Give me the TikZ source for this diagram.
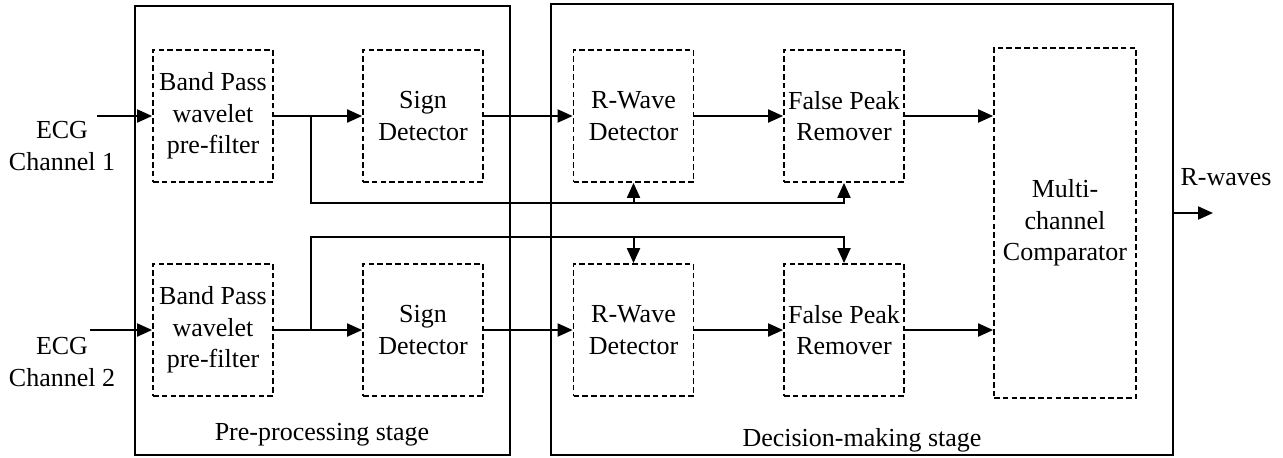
\documentclass[tikz,border=0pt]{standalone}
\usepackage{fontspec}
\setmainfont{Liberation Serif}
\usetikzlibrary{positioning,arrows.meta,calc,fit}

\begin{document}
\begin{tikzpicture}[x=0.5pt,y=-0.5pt,font=\fontsize{13}{15.8}\selectfont,line width=1pt,
		block/.style={rectangle,draw,dash pattern=on 2.8pt off 1.6pt,line width=0.9pt,
			minimum width=60pt,minimum height=66pt,inner sep=1pt,align=center},
		stage/.style={rectangle,draw,inner sep=0pt},
		arr/.style={-{Triangle[length=7.5pt,width=6.5pt]}}]
	\useasboundingbox (0,0) rectangle (1283,457);

	% stages
	\node[stage,fit={(135,6) (510,455)}] (pre) {};
	\node[stage,fit={(551,4) (1173,455)}] (dec) {};
	\node (prelbl) at (322,435) {Pre-processing stage};
	\node (declbl) at (862,440) {Decision-making stage};

	% channel 1
	\node[align=center] (ch1) at (62,146) {ECG\\Channel 1};
	\node[block] (bp1) at (213,116) {Band Pass\\wavelet\\pre-filter};
	\node[block] (sd1) at (423,116) {Sign\\Detector};
	\node[block] (rw1) at (633.5,116) {R-Wave\\Detector};
	\node[block] (fp1) at (844,116) {False Peak\\Remover};

	% channel 2
	\node[align=center] (ch2) at (62,362) {ECG\\Channel 2};
	\node[block] (bp2) at (213,330) {Band Pass\\wavelet\\pre-filter};
	\node[block] (sd2) at (423,330) {Sign\\Detector};
	\node[block] (rw2) at (633.5,330) {R-Wave\\Detector};
	\node[block] (fp2) at (844,330) {False Peak\\Remover};

	\node[block,minimum width=71pt,minimum height=175pt] (cmp) at (1065,223) {Multi-\\channel\\Comparator};
	\node (rwaves) at (1226,177) {R-waves};

	\coordinate (in1) at (97,116);
	\coordinate (in2) at (90,330);
	\coordinate (j1) at (311,116);
	\coordinate (b1) at (311,203);
	\coordinate (j2) at (311,330);
	\coordinate (b2) at (311,237);
	\coordinate (out) at (1213,213);

	\draw[arr] (in1) -- (bp1);
	\draw[arr] (bp1) -- (sd1);
	\draw[arr] (sd1) -- (rw1);
	\draw[arr] (rw1) -- (fp1);
	\draw[arr] (fp1) -- (fp1 -| cmp.west);
	\draw[arr] (in2) -- (bp2);
	\draw[arr] (bp2) -- (sd2);
	\draw[arr] (sd2) -- (rw2);
	\draw[arr] (rw2) -- (fp2);
	\draw[arr] (fp2) -- (fp2 -| cmp.west);

	% branches to the detectors
	\draw[arr] (j1) -- (b1) -- (b1 -| fp1.south) -- (fp1.south);
	\draw[arr] (rw1.south |- b1) -- (rw1.south);
	\draw[arr] (j2) -- (b2) -- (b2 -| fp2.north) -- (fp2.north);
	\draw[arr] (rw2.north |- b2) -- (rw2.north);

	\draw[arr] (dec.east |- out) -- (out);
\end{tikzpicture}
\end{document}
